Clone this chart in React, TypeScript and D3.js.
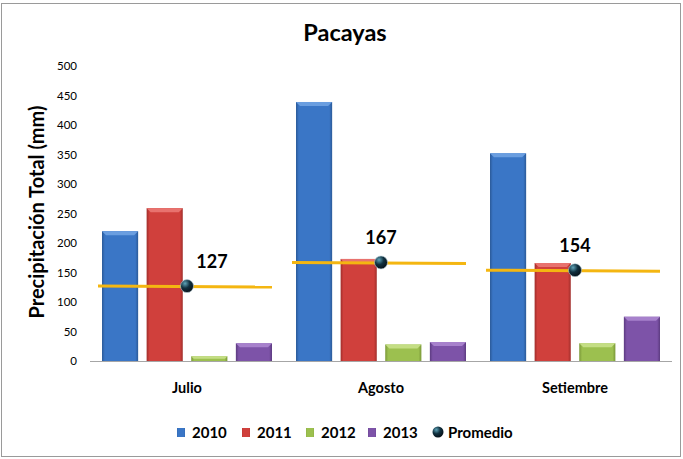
import React from "react";
import * as d3 from "d3";

const categories = ["Julio", "Agosto", "Setiembre"];
const seriesNames = ["2010", "2011", "2012", "2013"];
const values2010 = [220, 439, 352];
const values2011 = [259, 173, 166];
const values2012 = [8, 28, 30];
const values2013 = [30, 32, 75];
const promedio = [127, 167, 154];
const yTicks = [0, 50, 100, 150, 200, 250, 300, 350, 400, 450, 500];
const title = "Pacayas";
const yLabel = "Precipitación Total (mm)";
const avgName = "Promedio";

const seriesValues = [values2010, values2011, values2012, values2013];
const colors = [
  { base: "#3a76c6", light: "#6a9ee0", dark: "#2b5a98" },
  { base: "#d0403c", light: "#e8726e", dark: "#a02e2b" },
  { base: "#9cc04f", light: "#c4de84", dark: "#7a9838" },
  { base: "#7d53a8", light: "#a781cc", dark: "#5c3b80" },
];

const W = 683;
const H = 459;
const FONT = "Lato, 'Open Sans', sans-serif";

export default function App() {
  const x0 = d3.scaleBand<string>().domain(categories).range([90, 672]).padding(0);
  const x1 = d3
    .scaleBand<string>()
    .domain(seriesNames)
    .range([12, x0.bandwidth() - 12])
    .paddingInner(0.19);
  const y = d3.scaleLinear().domain([0, 500]).range([361, 66]);

  const legendItems = [
    { name: seriesNames[0], x: 177 },
    { name: seriesNames[1], x: 242 },
    { name: seriesNames[2], x: 306 },
    { name: seriesNames[3], x: 368 },
  ];

  return (
    <svg
      width={W}
      height={H}
      style={{ position: "absolute", left: 0, top: 0, background: "#fff" }}
    >
      <defs>
        {colors.map((c, i) => (
          <linearGradient key={i} id={`g${i}`} x1="0" x2="1" y1="0" y2="0">
            <stop offset="0" stopColor={c.dark} />
            <stop offset="0.08" stopColor={c.base} />
            <stop offset="0.92" stopColor={c.base} />
            <stop offset="1" stopColor={c.dark} />
          </linearGradient>
        ))}
        <radialGradient id="mk" cx="0.35" cy="0.3" r="0.8">
          <stop offset="0" stopColor="#5fa4b8" />
          <stop offset="0.45" stopColor="#10303f" />
          <stop offset="1" stopColor="#050a10" />
        </radialGradient>
      </defs>
      <rect x={1.5} y={3.5} width={679} height={453} fill="#fff" stroke="#9a9a9a" strokeWidth={1} />

      <text
        x={345}
        y={41}
        textAnchor="middle"
        fontFamily={FONT}
        fontWeight="bold"
        fontSize={23.5}
        fill="#000"
      >
        {title}
      </text>

      {yTicks.map((t) => (
        <text
          key={t}
          x={77}
          y={y(t) + 4}
          textAnchor="end"
          fontFamily={FONT}
          fontSize={11.5}
          fill="#000"
        >
          {t}
        </text>
      ))}

      <text
        transform={`translate(44,${212}) rotate(-90)`}
        textAnchor="middle"
        fontFamily={FONT}
        fontWeight="bold"
        fontSize={20}
        fill="#000"
      >
        {yLabel}
      </text>

      <line x1={90} x2={672} y1={y(0) + 0.5} y2={y(0) + 0.5} stroke="#a6a6a6" strokeWidth={1} />

      {categories.map((cat, ci) => (
        <g key={cat} transform={`translate(${x0(cat)},0)`}>
          {seriesNames.map((s, si) => {
            const v = seriesValues[si][ci];
            const bx = x1(s)!;
            const bw = x1.bandwidth();
            const top = y(v);
            const h = y(0) - top;
            const bev = Math.min(4, h / 2);
            return (
              <g key={s}>
                <rect x={bx} y={top} width={bw} height={h} fill={`url(#g${si})`} />
                <polygon
                  points={`${bx},${top} ${bx + bw},${top} ${bx + bw - bev},${top + bev} ${bx + bev},${top + bev}`}
                  fill={colors[si].light}
                />
              </g>
            );
          })}
          <text
            x={x0.bandwidth() / 2}
            y={393}
            textAnchor="middle"
            fontFamily={FONT}
            fontWeight="bold"
            fontSize={14.5}
            fill="#000"
          >
            {cat}
          </text>
        </g>
      ))}

      {categories.map((cat, ci) => {
        const gx = x0(cat)!;
        const yy = y(promedio[ci]);
        const cx = gx + x0.bandwidth() / 2;
        const dx = ci === 0 ? 25 : 0;
        return (
          <g key={`avg-${cat}`}>
            <line
              x1={gx + 8}
              x2={gx + x0.bandwidth() - 12}
              y1={yy}
              y2={yy + 1}
              stroke="#f4b611"
              strokeWidth={3}
            />
            <circle cx={cx} cy={yy} r={6.5} fill="url(#mk)" stroke="#b8d2dc" strokeWidth={0.6} />
            <text
              x={cx + dx}
              y={yy - 18}
              textAnchor="middle"
              fontFamily={FONT}
              fontWeight="bold"
              fontSize={18}
              fill="#000"
            >
              {promedio[ci]}
            </text>
          </g>
        );
      })}

      {legendItems.map((it, i) => (
        <g key={it.name}>
          <rect x={it.x} y={428} width={8} height={9} fill={`url(#g${i})`} />
          <text
            x={it.x + 15}
            y={438}
            fontFamily={FONT}
            fontWeight="bold"
            fontSize={15}
            fill="#000"
          >
            {it.name}
          </text>
        </g>
      ))}
      <circle cx={438} cy={432} r={5.5} fill="url(#mk)" />
      <text x={448} y={438} fontFamily={FONT} fontWeight="bold" fontSize={15} fill="#000">
        {avgName}
      </text>
    </svg>
  );
}
